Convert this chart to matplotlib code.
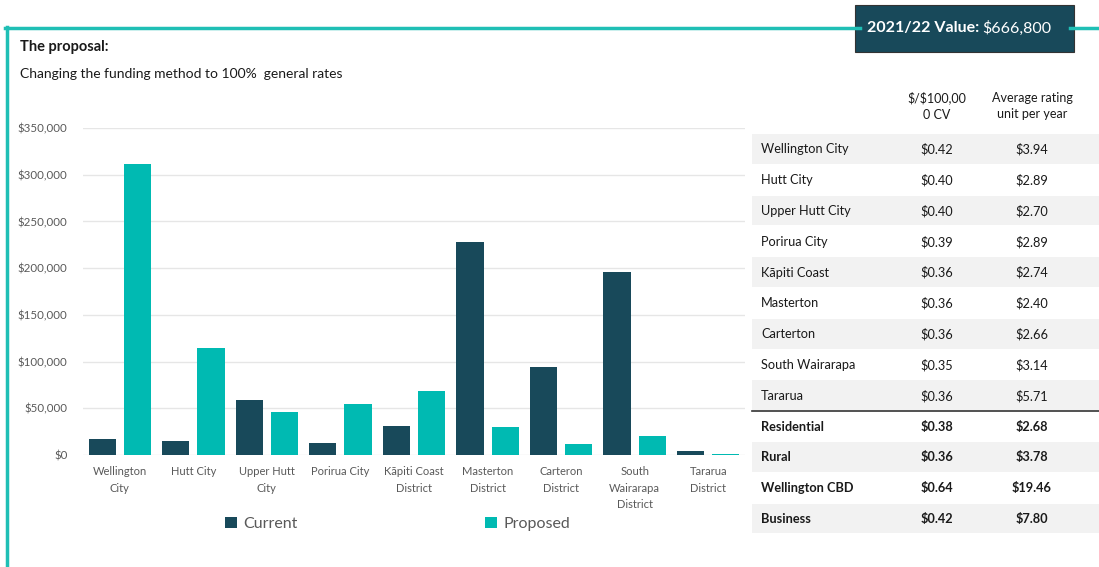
import matplotlib.pyplot as plt
from matplotlib.patches import Rectangle
from matplotlib.ticker import FuncFormatter

plt.rcParams['font.family'] = ['Lato', 'DejaVu Sans']

# chart data
councils = ['Wellington\nCity', 'Hutt City', 'Upper Hutt\nCity', 'Porirua City',
            'Kāpiti Coast\nDistrict', 'Masterton\nDistrict', 'Carteron\nDistrict',
            'South\nWairarapa\nDistrict', 'Tararua\nDistrict']
current = [17000, 15000, 59000, 13000, 31000, 228000, 94000, 196000, 4500]
proposed = [311500, 114500, 46000, 54500, 68500, 30000, 12000, 20000, 1000]

# table data
row_names = ['Wellington City', 'Hutt City', 'Upper Hutt City', 'Porirua City',
             'Kāpiti Coast', 'Masterton', 'Carterton', 'South Wairarapa', 'Tararua',
             'Residential', 'Rural', 'Wellington CBD', 'Business']
per_cv = ['$0.42', '$0.40', '$0.40', '$0.39', '$0.36', '$0.36', '$0.36', '$0.35', '$0.36',
          '$0.38', '$0.36', '$0.64', '$0.42']
per_unit = ['$3.94', '$2.89', '$2.70', '$2.89', '$2.74', '$2.40', '$2.66', '$3.14', '$5.71',
            '$2.68', '$3.78', '$19.46', '$7.80']
n_bold = 4

DARK = '#18495a'
TEAL = '#00bab2'
FRAME = '#1fbfb5'
GREY = '#595959'
TXT = '#1a1a1a'

W, H = 1099, 567
fig = plt.figure(figsize=(W / 100, H / 100), dpi=100)

# bar chart
ax = fig.add_axes([83 / W, 1 - 455 / H, (745 - 83) / W, (455 - 128) / H])
x = list(range(len(councils)))
ax.bar([i - 0.24 for i in x], current, width=0.37, color=DARK, label='Current', zorder=3)
ax.bar([i + 0.24 for i in x], proposed, width=0.37, color=TEAL, label='Proposed', zorder=3)
ax.set_xlim(-0.5, len(councils) - 0.5)
ax.set_ylim(0, 350000)
ax.set_yticks(range(0, 350001, 50000))
ax.yaxis.set_major_formatter(FuncFormatter(lambda v, p: f'\\${v:,.0f}'))
ax.set_xticks(x)
ax.set_xticklabels(councils, fontsize=8, color=GREY, linespacing=1.6)
ax.tick_params(axis='y', labelsize=8.3, labelcolor=GREY, length=0, pad=11)
ax.tick_params(axis='x', length=0, pad=8)
ax.grid(axis='y', color='#e6e6e6', linewidth=1, zorder=0)
for s in ax.spines.values():
    s.set_visible(False)
ax.legend(loc='upper center', bbox_to_anchor=(0.475, -0.145), ncol=2, frameon=False,
          fontsize=11.5, handlelength=0.75, handleheight=0.75, handletextpad=0.4,
          columnspacing=11.7, labelcolor=GREY)

# overlay in pixel coordinates for frame, titles and table
ov = fig.add_axes([0, 0, 1, 1])
ov.set_xlim(0, W)
ov.set_ylim(H, 0)
ov.axis('off')
ov.patch.set_alpha(0)

ov.plot([5, 860], [28, 28], color=FRAME, lw=2.5)
ov.plot([1070, W], [28, 28], color=FRAME, lw=2.5)
ov.plot([7, 7], [27, H], color=FRAME, lw=2.5)
ov.add_patch(Rectangle((855, 5), 219, 47, facecolor=DARK, edgecolor='#333333', lw=0.8))
t = ov.text(867, 28, '2021/22 Value:', color='white', fontsize=11.5, fontweight='bold', va='center')
ov.annotate('\\$666,800', xy=(1, 0.5), xycoords=t, xytext=(2, 0), textcoords='offset points',
            color='white', fontsize=11.5, va='center')

ov.text(20, 47, 'The proposal:', fontsize=10.5, fontweight='bold', va='center', color=TXT)
ov.text(20, 74, 'Changing the funding method to 100%  general rates', fontsize=10, va='center',
        color=TXT)

# table
ov.text(937, 106, '\\$/\\$100,00\n0 CV', ha='center', va='center', fontsize=9, linespacing=1.45,
        color=TXT)
ov.text(1032, 106, 'Average rating\nunit per year', ha='center', va='center', fontsize=9,
        linespacing=1.45, color=TXT)
top, rh = 134, 30.8
for i, name in enumerate(row_names):
    y0 = top + i * rh
    if i % 2 == 0:
        ov.add_patch(Rectangle((752, y0), W - 752, rh - 1, facecolor='#f2f2f2', edgecolor='none'))
    fw = 'bold' if i >= len(row_names) - n_bold else 'normal'
    yc = y0 + rh / 2
    ov.text(761, yc, name, fontsize=9.2, va='center', fontweight=fw, color=TXT)
    ov.text(937, yc, per_cv[i].replace('$', '\\$'), fontsize=9.2, va='center', ha='center',
            fontweight=fw, color=TXT)
    ov.text(1032, yc, per_unit[i].replace('$', '\\$'), fontsize=9.2, va='center', ha='center',
            fontweight=fw, color=TXT)
sep = top + (len(row_names) - n_bold) * rh
ov.plot([752, W], [sep, sep], color='#333333', lw=1.2)

fig.savefig('out.png', dpi=100)
